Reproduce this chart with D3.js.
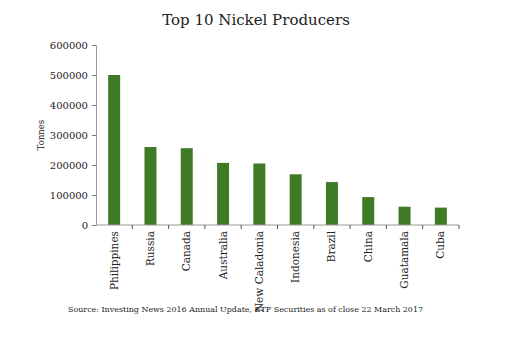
<!DOCTYPE html>
<html>
<head>
<meta charset="utf-8">
<script src="https://cdn.jsdelivr.net/npm/d3@7"></script>
<style>
  html, body { margin: 0; padding: 0; background: #fff; }
  svg { display: block; }
  text { font-family: Georgia, "DejaVu Serif", "Liberation Serif", serif; fill: #222; }
</style>
</head>
<body>
<script>
// Nickel production by country (tonnes)
const countries = ["Philippines", "Russia", "Canada", "Australia", "New Caladonia",
                   "Indonesia", "Brazil", "China", "Guatamala", "Cuba"];
const tonnes = [500000, 260000, 256000, 207000, 205000, 169000, 143000, 93000, 61000, 58000];
const yTicks = [0, 100000, 200000, 300000, 400000, 500000, 600000];

const W = 524, H = 343;
const margin = { left: 96, right: 65, top: 45, bottom: 118 };

const svg = d3.select("body").append("svg")
  .attr("width", W).attr("height", H);

const x = d3.scaleBand()
  .domain(countries)
  .range([margin.left, W - margin.right])
  .paddingInner(0.67)
  .paddingOuter(0.335);

const y = d3.scaleLinear()
  .domain([0, 600000])
  .range([H - margin.bottom, margin.top]);

// Title
svg.append("text")
  .attr("x", 256).attr("y", 25)
  .attr("text-anchor", "middle")
  .style("font-size", "15px")
  .text("Top 10 Nickel Producers");

// Bars
svg.append("g").selectAll("rect")
  .data(countries)
  .join("rect")
  .attr("x", d => x(d))
  .attr("width", x.bandwidth())
  .attr("y", (d, i) => y(tonnes[i]))
  .attr("height", (d, i) => y(0) - y(tonnes[i]))
  .attr("fill", "#3f7a27");

// Y axis
const yAxis = svg.append("g")
  .attr("transform", `translate(${margin.left},0)`)
  .call(d3.axisLeft(y).tickValues(yTicks).tickFormat(d3.format("d")).tickSize(4).tickPadding(4));
yAxis.select(".domain").attr("stroke", "#999");
yAxis.selectAll(".tick line").attr("stroke", "#777");
yAxis.selectAll(".tick text")
  .style("font-size", "10px")
  .style("font-family", "Georgia, 'DejaVu Serif', serif")
  .attr("fill", "#222");

// X axis with ticks on category boundaries
const step = x.step();
const xAxisG = svg.append("g")
  .attr("transform", `translate(0,${y(0)})`);
xAxisG.append("line")
  .attr("x1", margin.left).attr("x2", W - margin.right)
  .attr("y1", 0).attr("y2", 0)
  .attr("stroke", "#999");
xAxisG.selectAll("line.tick")
  .data(countries)
  .join("line")
  .attr("class", "tick")
  .attr("x1", d => x(d) + x.bandwidth() / 2 + step / 2)
  .attr("x2", d => x(d) + x.bandwidth() / 2 + step / 2)
  .attr("y1", 0).attr("y2", 4)
  .attr("stroke", "#555");

// Category labels, rotated
xAxisG.selectAll("text.cat")
  .data(countries)
  .join("text")
  .attr("class", "cat")
  .attr("transform", d => `translate(${x(d) + x.bandwidth() / 2 + 3.5},6) rotate(-90)`)
  .attr("text-anchor", "end")
  .style("font-size", "10.5px")
  .text(d => d);

// Y axis title
svg.append("text")
  .attr("transform", `translate(44,${(y(0) + y(600000)) / 2}) rotate(-90)`)
  .attr("text-anchor", "middle")
  .style("font-size", "8.5px")
  .text("Tonnes");

// Source note
svg.append("text")
  .attr("x", 68).attr("y", 312)
  .style("font-size", "8px")
  .attr("textLength", 355)
  .attr("lengthAdjust", "spacingAndGlyphs")
  .text("Source: Investing News 2016 Annual Update, ETF Securities as of close 22 March 2017");
</script>
</body>
</html>
